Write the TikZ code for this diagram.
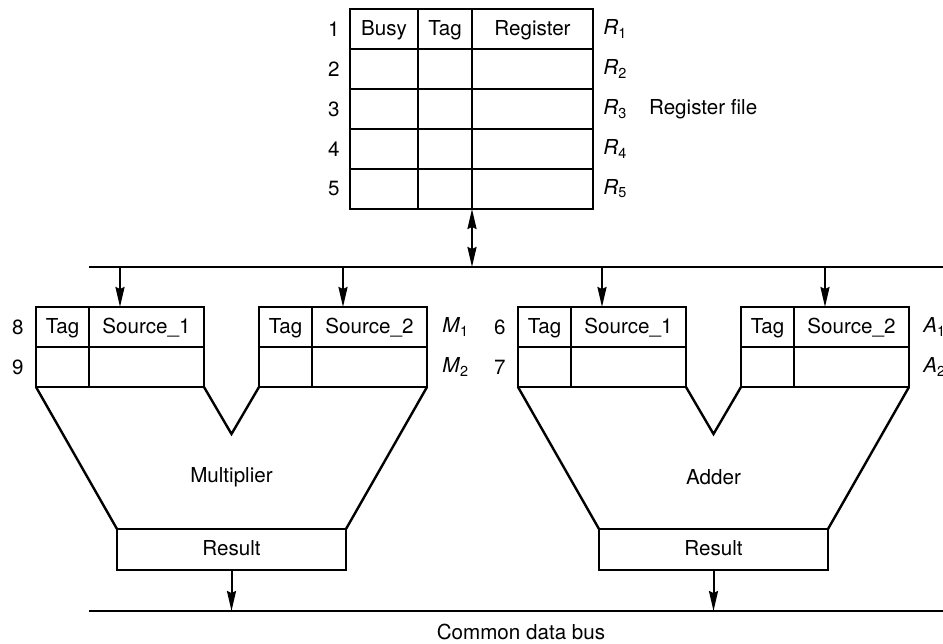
\documentclass[tikz,border=0pt]{standalone}
\usepackage{fontspec}
\setmainfont{TeX Gyre Heros}
\usetikzlibrary{positioning}
\usetikzlibrary{arrows.meta}
\usetikzlibrary{calc}

\begin{document}
\begin{tikzpicture}[x=0.5pt, y=-0.5pt]
            \tikzstyle{every node}=[font=\fontsize{10.3pt}{12pt}\selectfont];
            \tikzstyle{cell}=[rectangle, draw, line width=1.2pt, minimum height=20pt, inner sep=0pt, outer sep=0pt, node distance=0pt, text height=1.55ex, text depth=0.4ex];
            \tikzstyle{busy_cell}=[cell, minimum width=34pt];
            \tikzstyle{tag_cell}=[cell, minimum width=27pt];
            \tikzstyle{reg_cell}=[cell, minimum width=60.5pt];
            \tikzstyle{rs_tag}=[cell, minimum width=26.5pt];
            \tikzstyle{rs_src}=[cell, minimum width=57.5pt];
            \tikzstyle{res_node}=[cell, minimum width=114.5pt, minimum height=20.5pt];
            \tikzstyle{lbl}=[inner sep=0pt];
            \tikzstyle{bus}=[line width=1.4pt];
            \tikzstyle{unit}=[line width=1.2pt];
            \tikzstyle{arrow}=[line width=1pt, -{Stealth[length=10pt, width=4.5pt, inset=1pt]}];

            \useasboundingbox (0,0) rectangle (943,643);

            % Register file
            \node(busy1) [busy_cell, anchor=north west] at (350,9) {Busy};
            \node(tag1) [tag_cell, right = of busy1] {Tag};
            \node(reg1) [reg_cell, right = of tag1] {Register};
            \node(busy2) [busy_cell, below = of busy1] {};
            \node(tag2) [tag_cell, right = of busy2] {};
            \node(reg2) [reg_cell, right = of tag2] {};
            \node(busy3) [busy_cell, below = of busy2] {};
            \node(tag3) [tag_cell, right = of busy3] {};
            \node(reg3) [reg_cell, right = of tag3] {};
            \node(busy4) [busy_cell, below = of busy3] {};
            \node(tag4) [tag_cell, right = of busy4] {};
            \node(reg4) [reg_cell, right = of tag4] {};
            \node(busy5) [busy_cell, below = of busy4] {};
            \node(tag5) [tag_cell, right = of busy5] {};
            \node(reg5) [reg_cell, right = of tag5] {};

            \node(num1) [lbl, left = 5pt of busy1] {1};
            \node(num2) [lbl, left = 5pt of busy2] {2};
            \node(num3) [lbl, left = 5pt of busy3] {3};
            \node(num4) [lbl, left = 5pt of busy4] {4};
            \node(num5) [lbl, left = 5pt of busy5] {5};
            \node(r1) [lbl, right = 5pt of reg1] {\textit{R}\textsubscript{1}};
            \node(r2) [lbl, right = 5pt of reg2] {\textit{R}\textsubscript{2}};
            \node(r3) [lbl, right = 5pt of reg3] {\textit{R}\textsubscript{3}};
            \node(r4) [lbl, right = 5pt of reg4] {\textit{R}\textsubscript{4}};
            \node(r5) [lbl, right = 5pt of reg5] {\textit{R}\textsubscript{5}};
            \node(regfile) [lbl, right = 10.5pt of r3] {Register file};

            % Buses
            \coordinate(ibus_w) at (89,267);
            \coordinate(ibus_e) at (943,267);
            \coordinate(cdb_w) at (89,611);
            \coordinate(cdb_e) at (943,611);
            \draw[bus] (ibus_w) -- (ibus_e);
            \draw[bus] (cdb_w) -- (cdb_e);
            \node(cdb_label) [lbl, anchor=base] at (521,639) {Common data bus};
            \draw[arrow, {Stealth[length=10pt, width=4.5pt, inset=1pt]}-{Stealth[length=10pt, width=4.5pt, inset=1pt]}] (tag5.south east) -- (tag5.south east |- ibus_w);

            % Multiplier
            \node(m1_tag1) [rs_tag, anchor=north west] at (36,307) {Tag};
            \node(m1_src1) [rs_src, right = of m1_tag1] {Source\_1};
            \node(m2_tag1) [rs_tag, below = of m1_tag1] {};
            \node(m2_src1) [rs_src, right = of m2_tag1] {};
            \node(m1_tag2) [rs_tag, anchor=north west] at (259,307) {Tag};
            \node(m1_src2) [rs_src, right = of m1_tag2] {Source\_2};
            \node(m2_tag2) [rs_tag, below = of m1_tag2] {};
            \node(m2_src2) [rs_src, right = of m2_tag2] {};
            \node(num8) [lbl, left = 6pt of m1_tag1] {8};
            \node(num9) [lbl, left = 6pt of m2_tag1] {9};
            \node(mul1) [lbl, right = 7.5pt of m1_src2] {\textit{M}\textsubscript{1}};
            \node(mul2) [lbl, right = 7.5pt of m2_src2] {\textit{M}\textsubscript{2}};

            \node(m_res) [res_node, anchor=north] at (231.5,529) {Result};
            \coordinate(m_vee) at (231.5,434);
            \node(m_label) at (231.5,477) {Multiplier};
            \draw[unit] (m2_tag1.south west) -- (m_res.north west);
            \draw[unit] (m2_src1.south east) -- (m_vee) -- (m2_tag2.south west);
            \draw[unit] (m2_src2.south east) -- (m_res.north east);

            \coordinate(m_in1) at ($(m1_tag1.north west)!0.5!(m1_src1.north east)$);
            \coordinate(m_in2) at ($(m1_tag2.north west)!0.5!(m1_src2.north east)$);
            \draw[arrow] (m_in1 |- ibus_w) -- (m_in1);
            \draw[arrow] (m_in2 |- ibus_w) -- (m_in2);
            \draw[arrow] (m_res.south) -- (m_res.south |- cdb_w);

            % Adder
            \node(a1_tag1) [rs_tag, anchor=north west] at (518,307) {Tag};
            \node(a1_src1) [rs_src, right = of a1_tag1] {Source\_1};
            \node(a2_tag1) [rs_tag, below = of a1_tag1] {};
            \node(a2_src1) [rs_src, right = of a2_tag1] {};
            \node(a1_tag2) [rs_tag, anchor=north west] at (741,307) {Tag};
            \node(a1_src2) [rs_src, right = of a1_tag2] {Source\_2};
            \node(a2_tag2) [rs_tag, below = of a1_tag2] {};
            \node(a2_src2) [rs_src, right = of a2_tag2] {};
            \node(num6) [lbl, left = 6pt of a1_tag1] {6};
            \node(num7) [lbl, left = 6pt of a2_tag1] {7};
            \node(add1) [lbl, right = 7pt of a1_src2] {\textit{A}\textsubscript{1}};
            \node(add2) [lbl, right = 7pt of a2_src2] {\textit{A}\textsubscript{2}};

            \node(a_res) [res_node, anchor=north] at (713.5,529) {Result};
            \coordinate(a_vee) at (713.5,434);
            \node(a_label) at (713.5,477) {Adder};
            \draw[unit] (a2_tag1.south west) -- (a_res.north west);
            \draw[unit] (a2_src1.south east) -- (a_vee) -- (a2_tag2.south west);
            \draw[unit] (a2_src2.south east) -- (a_res.north east);

            \coordinate(a_in1) at ($(a1_tag1.north west)!0.5!(a1_src1.north east)$);
            \coordinate(a_in2) at ($(a1_tag2.north west)!0.5!(a1_src2.north east)$);
            \draw[arrow] (a_in1 |- ibus_w) -- (a_in1);
            \draw[arrow] (a_in2 |- ibus_w) -- (a_in2);
            \draw[arrow] (a_res.south) -- (a_res.south |- cdb_w);
\end{tikzpicture}
\end{document}
